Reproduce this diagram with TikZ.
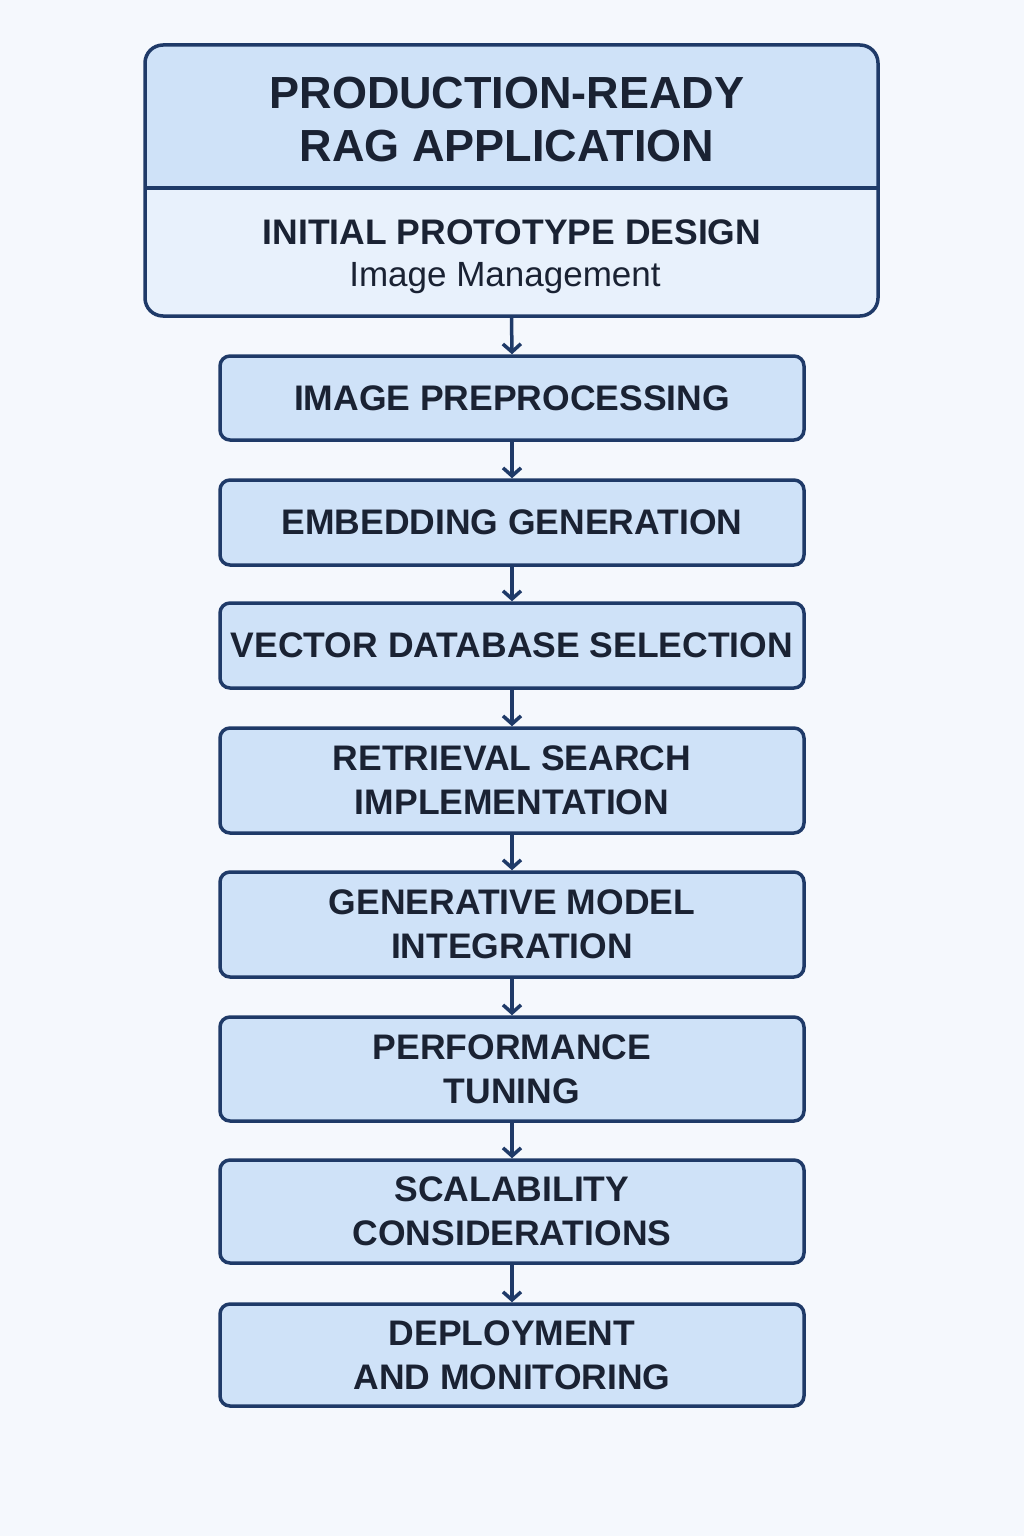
\documentclass[tikz,border=0pt]{standalone}
\usepackage{fontspec}
\setmainfont{Liberation Sans}
\usetikzlibrary{arrows.meta}
\definecolor{bg}{HTML}{F5F8FD}
\definecolor{edge}{HTML}{1F3A68}
\definecolor{fillA}{HTML}{CFE2F8}
\definecolor{fillB}{HTML}{E8F1FC}
\definecolor{txt}{HTML}{1A2233}
\begin{document}
\begin{tikzpicture}[x=1pt,y=-1pt,
  stepbox/.style={draw=edge,line width=3.5pt,fill=fillA,rounded corners=10pt,minimum width=584pt,text=txt,font=\bfseries\fontsize{35.5}{44}\selectfont,align=center,inner sep=0pt},
  arr/.style={draw=edge,line width=3.5pt,-{Straight Barb[length=8pt,width=18pt]}}]
\fill[bg] (0,0) rectangle (1024,1536);
\useasboundingbox (0,0) rectangle (1024,1536);
% top box
\begin{scope}
\clip[rounded corners=18pt] (145,45) rectangle (878,316);
\fill[fillB] (145,45) rectangle (878,316);
\fill[fillA] (145,45) rectangle (878,188);
\end{scope}
\draw[edge,line width=3.5pt] (145,188) -- (878,188);
\node[draw=edge,line width=3.5pt,rounded corners=18pt,minimum width=733pt,minimum height=271pt,inner sep=0pt] (top) at (511.5,180.5) {};
\node[text=txt,font=\bfseries\fontsize{45}{53}\selectfont,align=center] (title) at (507,120) {PRODUCTION-READY\\RAG APPLICATION};
\node[text=txt,font=\bfseries\fontsize{35.5}{40}\selectfont] (sub) at (512,232) {INITIAL PROTOTYPE DESIGN};
\node[text=txt,font=\fontsize{35}{40}\selectfont] (sub2) at (505,278) {Image Management};
\node[stepbox,minimum height=84pt] (s1) at (512,398) {IMAGE PREPROCESSING};
\node[stepbox,minimum height=85pt] (s2) at (512,522.5) {EMBEDDING GENERATION};
\node[stepbox,minimum height=85pt] (s3) at (512,645.5) {VECTOR DATABASE SELECTION};
\node[stepbox,minimum height=105pt] (s4) at (512,780.5) {RETRIEVAL SEARCH\\IMPLEMENTATION};
\node[stepbox,minimum height=105pt] (s5) at (512,924.5) {GENERATIVE MODEL\\INTEGRATION};
\node[stepbox,minimum height=104pt] (s6) at (512,1069) {PERFORMANCE\\TUNING};
\node[stepbox,minimum height=103pt] (s7) at (512,1211.5) {SCALABILITY\\CONSIDERATIONS};
\node[stepbox,minimum height=102pt] (s8) at (512,1355) {DEPLOYMENT\\AND MONITORING};
\draw[arr] (top.south) -- (s1.north);
\draw[arr] (s1.south) -- (s2.north);
\draw[arr] (s2.south) -- (s3.north);
\draw[arr] (s3.south) -- (s4.north);
\draw[arr] (s4.south) -- (s5.north);
\draw[arr] (s5.south) -- (s6.north);
\draw[arr] (s6.south) -- (s7.north);
\draw[arr] (s7.south) -- (s8.north);
\end{tikzpicture}
\end{document}
